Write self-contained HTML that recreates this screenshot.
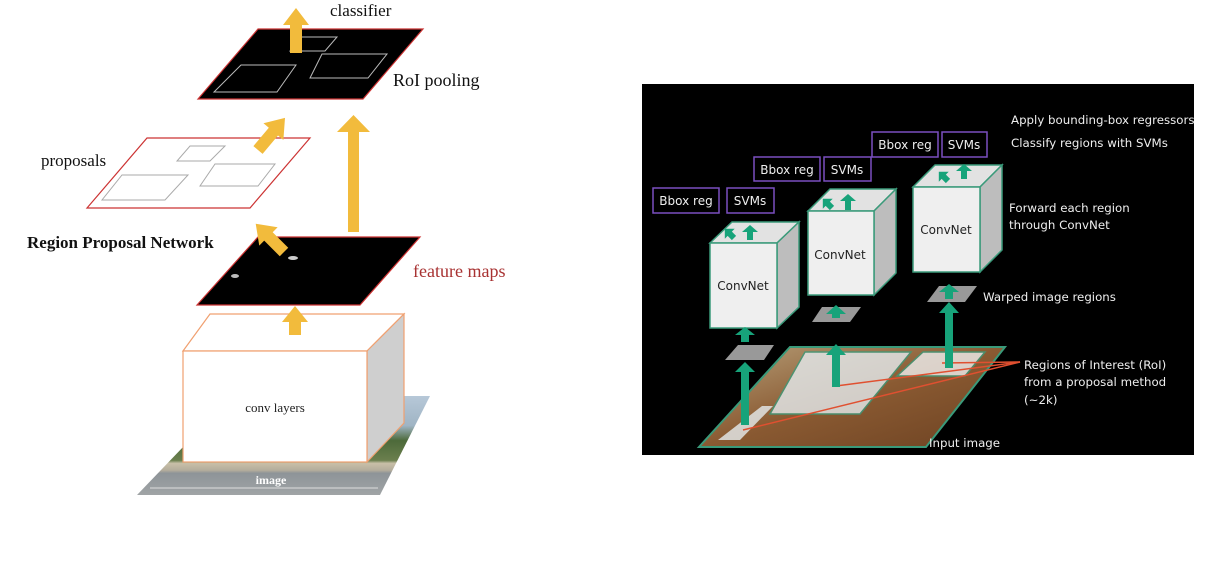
<!DOCTYPE html>
<html><head><meta charset="utf-8"><style>
html,body{margin:0;padding:0;background:#fff;width:1225px;height:562px;overflow:hidden}
</style></head><body>
<svg width="1225" height="562" viewBox="0 0 1225 562" xmlns="http://www.w3.org/2000/svg">
<defs>
<linearGradient id="img" x1="0" y1="0" x2="0" y2="1">
<stop offset="0" stop-color="#b7c8d8"/><stop offset="0.3" stop-color="#9fb4c4"/>
<stop offset="0.45" stop-color="#4d6a3a"/><stop offset="0.65" stop-color="#6b7f4e"/>
<stop offset="0.68" stop-color="#c8bfa8"/><stop offset="0.75" stop-color="#b4ad9c"/>
<stop offset="0.78" stop-color="#8e9498"/><stop offset="1" stop-color="#a0a4a6"/>
</linearGradient>
<linearGradient id="wood" x1="0" y1="0" x2="1" y2="1">
<stop offset="0" stop-color="#b8a27c"/><stop offset="0.5" stop-color="#8a5a32"/><stop offset="1" stop-color="#6d4222"/>
</linearGradient>
</defs>
<polygon points="232,396 430,396 380,495 137,495" fill="url(#img)"/>
<line x1="150" y1="488" x2="378" y2="488" stroke="#ddd" stroke-width="1"/>
<text x="271" y="484" font-family="Liberation Serif, serif" font-size="12" font-weight="bold" fill="#fff" text-anchor="middle">image</text>
<polygon points="183,351 210,314 404,314 367,351" fill="#fff" stroke="#f0a070" stroke-width="1.2"/>
<polygon points="367,351 404,314 404,423 367,462" fill="#cfcfcf" stroke="#f0a070" stroke-width="1.2"/>
<rect x="183" y="351" width="184" height="111" fill="#fff" stroke="#f0a070" stroke-width="1.2"/>
<text x="275" y="412" font-family="Liberation Serif, serif" font-size="13" fill="#222" text-anchor="middle">conv layers</text>
<polygon points="258,237 420,237 360,305 197,305" fill="#000" stroke="#c33" stroke-width="1.2"/>
<ellipse cx="293" cy="258" rx="5" ry="2" fill="#ccc"/><ellipse cx="235" cy="276" rx="4" ry="2" fill="#bbb"/>
<text x="413" y="277" font-family="Liberation Serif, serif" font-size="18" fill="#a83232">feature maps</text>
<polygon points="147,138 310,138 250,208 87,208" fill="#fff" stroke="#c33" stroke-width="1.2"/>
<polygon points="190,146 225,146 210,161 177,161" fill="none" stroke="#aaa"/>
<polygon points="215,164 275,164 258,186 200,186" fill="none" stroke="#aaa"/>
<polygon points="122,175 188,175 165,200 102,200" fill="none" stroke="#aaa"/>
<text x="41" y="166" font-family="Liberation Serif, serif" font-size="17" fill="#111">proposals</text>
<text x="27" y="248" font-family="Liberation Serif, serif" font-size="17" font-weight="bold" fill="#111">Region Proposal Network</text>
<polygon points="258,29 423,29 363,99 198,99" fill="#000" stroke="#c33" stroke-width="1.2"/>
<polygon points="301,37 337,37 325,51 290,51" fill="none" stroke="#bbb"/>
<polygon points="322,54 387,54 368,78 310,78" fill="none" stroke="#bbb"/>
<polygon points="241,65 296,65 277,92 214,92" fill="none" stroke="#bbb"/>
<text x="393" y="86" font-family="Liberation Serif, serif" font-size="18" fill="#111">RoI pooling</text>
<text x="330" y="16" font-family="Liberation Serif, serif" font-size="17" fill="#111">classifier</text>
<g fill="#f2bb3c">
<polygon points="290,53 302,53 302,25 309,25 296,8 283,25 290,25"/>
<polygon points="348,232 359,232 359,132 370,132 353.5,115 337,132 348,132"/>
<polygon points="289,335 301,335 301,322 308,322 295,306 282,322 289,322"/>
<g transform="translate(258,150) rotate(40)"><polygon points="-6,0 6,0 6,-24 13,-24 0,-42 -13,-24 -6,-24"/></g>
<g transform="translate(284,252) rotate(-45)"><polygon points="-6,0 6,0 6,-22 13,-22 0,-40 -13,-22 -6,-22"/></g>
</g>

<rect x="642" y="84" width="552" height="371" fill="#000"/>
<polygon points="790,347 1005,347 926,447 699,447" fill="url(#wood)" stroke="#3a9a7a" stroke-width="2"/>
<polygon points="805,352 911,352 860,414 770,414" fill="#e6ecef" opacity="0.8" stroke="#3a9a7a" stroke-width="1.5"/>
<polygon points="762,406 773,406 740,440 718,440" fill="#e6ecef" opacity="0.8"/>
<polygon points="923,352 985,352 965,376 897,376" fill="#f0f0f0" opacity="0.8" stroke="#3a9a7a" stroke-width="1.5"/>
<g stroke="#e05030" stroke-width="1.5">
<line x1="1020" y1="362" x2="942" y2="363"/><line x1="1020" y1="362" x2="836" y2="386"/><line x1="1020" y1="362" x2="743" y2="430"/>
</g>
<polygon points="738,345 774,345 764,360 725,360" fill="#999"/>
<polygon points="822,307 861,307 850,322 812,322" fill="#999"/>
<polygon points="939,286 977,286 965,302 927,302" fill="#999"/>
<g stroke="#3a9a7a" stroke-width="1.5">
<polygon points="710,243 732,222 799,222 777,243" fill="#e2e2e2"/>
<polygon points="777,243 799,222 799,307 777,328" fill="#bdbdbd"/>
<rect x="710" y="243" width="67" height="85" fill="#efefef"/>
<polygon points="808,211 830,189 896,189 874,211" fill="#e2e2e2"/>
<polygon points="874,211 896,189 896,273 874,295" fill="#bdbdbd"/>
<rect x="808" y="211" width="66" height="84" fill="#efefef"/>
<polygon points="913,187 935,165 1002,165 980,187" fill="#e2e2e2"/>
<polygon points="980,187 1002,165 1002,250 980,272" fill="#bdbdbd"/>
<rect x="913" y="187" width="67" height="85" fill="#efefef"/>
</g>
<g font-family="DejaVu Sans, sans-serif" font-size="12" fill="#222" text-anchor="middle">
<text x="743" y="290">ConvNet</text><text x="840" y="259">ConvNet</text><text x="946" y="234">ConvNet</text>
</g>
<g fill="#17a37a">
<polygon points="741,425 749,425 749,372 755,372 745,362 735,372 741,372"/>
<polygon points="741,342 749,342 749,335 755,335 745,327 735,335 741,335"/>
<polygon points="832,387 840,387 840,355 846,355 836,344 826,355 832,355"/>
<polygon points="832,318 840,318 840,314 846,314 836,305 826,314 832,314"/>
<polygon points="945,368 953,368 953,313 959,313 949,302 939,313 945,313"/>
<polygon points="945,299 953,299 953,292 959,292 949,284 939,292 945,292"/>
<polygon points="747,240 753,240 753,232 758,232 750,225 742,232 747,232"/>
<polygon points="845,210 851,210 851,201 856,201 848,194 840,201 845,201"/>
<polygon points="961,179 967,179 967,171 972,171 964,164 956,171 961,171"/>
<g transform="translate(734,238) rotate(-45)"><polygon points="-3,0 3,0 3,-6 7,-6 0,-13 -7,-6 -3,-6"/></g>
<g transform="translate(832,208) rotate(-45)"><polygon points="-3,0 3,0 3,-6 7,-6 0,-13 -7,-6 -3,-6"/></g>
<g transform="translate(948,181) rotate(-45)"><polygon points="-3,0 3,0 3,-6 7,-6 0,-13 -7,-6 -3,-6"/></g>
</g>
<g fill="none" stroke="#7a4fc0" stroke-width="1.5">
<rect x="653" y="188" width="66" height="25"/><rect x="727" y="188" width="47" height="25"/>
<rect x="754" y="157" width="66" height="24"/><rect x="824" y="157" width="47" height="24"/>
<rect x="872" y="132" width="66" height="25"/><rect x="942" y="132" width="45" height="25"/>
</g>
<g font-family="DejaVu Sans, sans-serif" font-size="12" fill="#eee" text-anchor="middle">
<text x="686" y="205">Bbox reg</text><text x="750" y="205">SVMs</text>
<text x="787" y="174">Bbox reg</text><text x="847" y="174">SVMs</text>
<text x="905" y="149">Bbox reg</text><text x="964" y="149">SVMs</text>
</g>
<g font-family="DejaVu Sans, sans-serif" font-size="11.8" fill="#eee">
<text x="1011" y="124">Apply bounding-box regressors</text>
<text x="1011" y="147">Classify regions with SVMs</text>
<text x="1009" y="212">Forward each region</text>
<text x="1009" y="229">through  ConvNet</text>
<text x="983" y="301">Warped image regions</text>
<text x="1024" y="369">Regions of Interest (RoI)</text>
<text x="1024" y="386">from a proposal method</text>
<text x="1024" y="404">(~2k)</text>
<text x="929" y="447">Input image</text>
</g>
</svg>
</body></html>
